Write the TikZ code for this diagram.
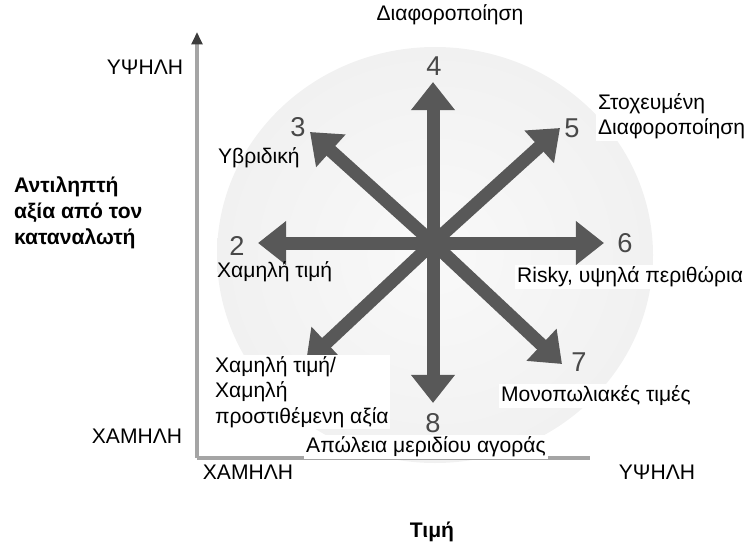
\documentclass[tikz,border=0pt]{standalone}
\usepackage{fontspec}
\setmainfont{Liberation Sans}
\usetikzlibrary{arrows.meta}
\definecolor{spokegray}{RGB}{88,88,88}
\definecolor{numgray}{RGB}{72,72,72}
\definecolor{axisgray}{RGB}{165,165,165}
\definecolor{tipgray}{RGB}{60,60,60}
\definecolor{discin}{RGB}{249,249,249}
\definecolor{discmid}{RGB}{241,241,241}
\definecolor{discout}{RGB}{226,226,226}
\pgfdeclareradialshading{discshade}{\pgfpoint{0bp}{0bp}}{%
  color(0bp)=(discin); color(25bp)=(discmid); color(45bp)=(discmid!70!discout);
  color(50bp)=(discout); color(80bp)=(discout)}
\tikzset{
  spoke/.style={draw=spokegray, line width=7.4pt, -{Triangle[width=24pt,length=16pt]}},
  digit/.style={text=numgray, font=\fontsize{15.5}{18}\selectfont, inner sep=0pt},
  lbl/.style={font=\fontsize{12}{14.5}\selectfont, inner sep=1pt, align=left},
  lblbox/.style={lbl, fill=white},
  headlbl/.style={lbl, font=\bfseries\fontsize{12}{14.8}\selectfont},
  axisline/.style={draw=axisgray, line width=2.2pt},
}

\begin{document}
\begin{tikzpicture}[x=0.02cm, y=-0.02cm]
    \useasboundingbox (0,0) rectangle (750,544);
    % Disc behind the arrows
    \shade[shading=discshade] (435,255) ellipse [x radius=218, y radius=208];

    % Axes
    \coordinate (origin) at (197,458);
    \coordinate (ytop) at (197,32);
    \coordinate (xend) at (590,458);
    \draw[axisline, -{Triangle[width=6pt,length=7pt,color=tipgray]}] (origin) -- (ytop);
    \draw[axisline] (origin) -- (xend);

    % Eight strategy arrows
    \coordinate (hub) at (433,243);
    \coordinate (tip2) at (258,243);
    \coordinate (tip3) at (310,132);
    \coordinate (tip4) at (433,82);
    \coordinate (tip5) at (560,128);
    \coordinate (tip6) at (604,243);
    \coordinate (tip7) at (562,364);
    \coordinate (tip8) at (433,403);
    \coordinate (tip1) at (306,362);
    \foreach \k in {1,...,8}
        \draw[spoke] (hub) -- (tip\k);

    % Numbers
    \node[digit] (n2) at (237,246) {2};
    \node[digit] (n3) at (298,127) {3};
    \node[digit] (n4) at (434,66) {4};
    \node[digit] (n5) at (572,128) {5};
    \node[digit] (n6) at (625,243) {6};
    \node[digit] (n7) at (579,362) {7};
    \node[digit] (n8) at (433,423) {8};

    % Strategy names
    \node[lbl] (diff) at (450,15) {Διαφοροποίηση};
    \node[lbl, anchor=west] (hybrid) at (216,158) {Υβριδική};
    \node[lblbox, anchor=west] (focus) at (596,116) {Στοχευμένη\\Διαφοροποίηση};
    \node[lbl, anchor=west] (lowprice) at (215,272) {Χαμηλή τιμή};
    \node[lblbox, anchor=west] (risky) at (515,277) {Risky, υψηλά περιθώρια};
    \node[lblbox, anchor=west] (monop) at (499,396) {Μονοπωλιακές τιμές};
    \node[lblbox, anchor=west] (lowlow) at (213,392) {Χαμηλή τιμή/\\Χαμηλή\\προστιθέμενη αξία};
    \node[lblbox] (loss) at (426,447) {Απώλεια μεριδίου αγοράς};

    % Axis labels
    \node[lbl] (yhigh) at (145,67) {ΥΨΗΛΗ};
    \node[lbl] (ylow) at (137,436) {ΧΑΜΗΛΗ};
    \node[lbl] (xlow) at (248,472) {ΧΑΜΗΛΗ};
    \node[lbl] (xhigh) at (657,472) {ΥΨΗΛΗ};
    \node[headlbl, anchor=west] (ytitle) at (12,213) {Αντιληπτή\\αξία από τον\\καταναλωτή};
    \node[headlbl] (xtitle) at (432,532) {Τιμή};
\end{tikzpicture}
\end{document}
